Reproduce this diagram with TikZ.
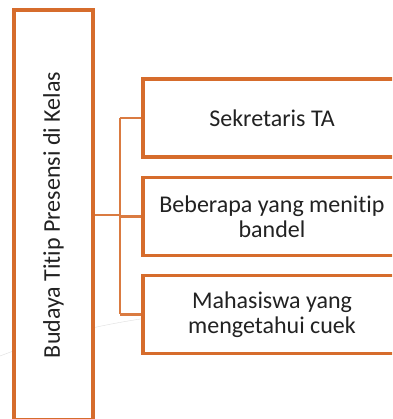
\documentclass[tikz,border=0pt]{standalone}
\usepackage{fontspec}
\setmainfont[Ligatures=NoCommon]{Carlito}
\definecolor{oranye}{RGB}{214,108,44}
\definecolor{teks}{RGB}{34,34,34}
\tikzset{
    kotak/.style={draw=oranye, line width=3.5pt, fill=white, text=teks, align=center,
        inner sep=0pt, font=\fontsize{24}{25}\selectfont},
    sambung/.style={draw=oranye!90!white, line width=2.3pt},
}
\begin{document}
\begin{tikzpicture}[x=1pt, y=1pt]
    \clip (0,0) rectangle (392,419);
    \fill[white] (0,0) rectangle (392,419);

    \draw[gray!25, thin] (0,63) .. controls (60,86) and (120,101) .. (220,109);

    \node[kotak, rotate=90, minimum width=410pt, minimum height=79pt] (kelas) at (53.5,204)
        {Budaya Titip Presensi di Kelas};

    \node[kotak, minimum width=258pt, minimum height=78pt] (sekretaris) at (272,301) {Sekretaris TA};
    \node[kotak, minimum width=258pt, minimum height=78pt] (bandel) at (272,202.5) {Beberapa yang menitip\\bandel};
    \node[kotak, minimum width=258pt, minimum height=78pt] (cuek) at (272,104.5) {Mahasiswa yang\\mengetahui cuek};

    \path (kelas.south) ++(25,0) coordinate (cabang);
    \draw[sambung] (kelas.south) -- (cabang);
    \draw[sambung] (cabang |- sekretaris.west) -- (cabang |- cuek.west);
    \foreach \n in {sekretaris,bandel,cuek} {
        \draw[sambung] (cabang |- \n.west) -- (\n.west);
    }
\end{tikzpicture}
\end{document}
